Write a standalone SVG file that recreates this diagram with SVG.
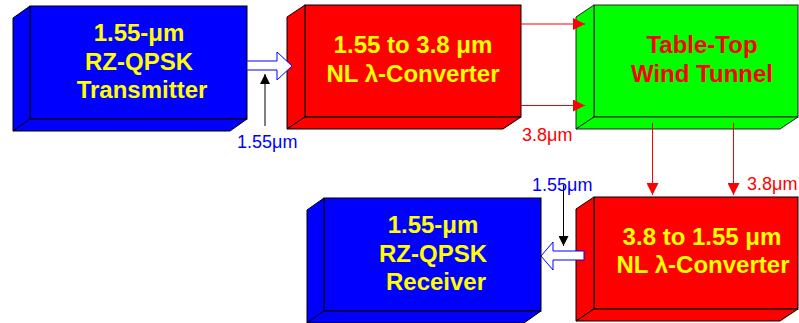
<svg xmlns="http://www.w3.org/2000/svg" width="799" height="323" viewBox="0 0 799 323">
<defs>
<style>
.blue{fill:#0000FF;stroke:#000;stroke-width:1;stroke-linejoin:miter}
.red{fill:#FF0000;stroke:#000;stroke-width:1}
.green{fill:#00FF00;stroke:#222;stroke-width:1}
.t{font-family:"Liberation Sans",Arial,sans-serif;font-weight:bold;font-size:24px;text-anchor:middle}
.ty{fill:#FFFF00}
.tr{fill:#FF0000}
.lbl{font-family:"Liberation Sans",Arial,sans-serif;font-size:18px}
.rl{stroke:#FF0000;stroke-width:1;fill:none}
.bl{stroke:#000;stroke-width:1;fill:none}
.blk{fill:#FFFFFF;stroke:#0000FF;stroke-width:1}
</style>
<marker id="ar" markerUnits="userSpaceOnUse" markerWidth="12" markerHeight="12" viewBox="0 0 10 10" refX="10" refY="5" orient="auto">
<path d="M0,0 L10,5 L0,10 Z" fill="#FF0000"/>
</marker>
<marker id="ak" markerUnits="userSpaceOnUse" markerWidth="10" markerHeight="10" viewBox="0 0 10 10" refX="10" refY="5" orient="auto">
<path d="M0,0 L10,5 L0,10 Z" fill="#000"/>
</marker>
</defs>
<g id="transmitter">
<rect class="blue" x="30" y="6" width="217" height="113"/>
<polygon class="blue" points="13,18 30,6 30,119 13,131"/>
<polygon class="blue" points="13,131 30,119 247,119 230,131"/>
<text class="t ty" x="139" y="41">1.55-μm</text>
<text class="t ty" x="139" y="70">RZ-QPSK</text>
<text class="t ty" x="142" y="98">Transmitter</text>
</g>
<g id="converter1">
<rect class="red" x="305" y="5" width="216" height="112"/>
<polygon class="red" points="287,17 305,5 305,117 287,129"/>
<polygon class="red" points="287,129 305,117 521,117 503,129"/>
<text class="t ty" x="413" y="53">1.55 to 3.8 μm</text>
<text class="t ty" x="413" y="82">NL λ-Converter</text>
</g>
<g id="windtunnel">
<rect class="green" x="594" y="5" width="204" height="112"/>
<polygon class="green" points="576,17 594,5 594,117 576,129"/>
<polygon class="green" points="576,129 594,117 798,117 780,129"/>
<text class="t tr" x="702" y="53">Table-Top</text>
<text class="t tr" x="702" y="82">Wind Tunnel</text>
</g>
<g id="receiver">
<rect class="blue" x="324" y="198" width="217" height="113"/>
<polygon class="blue" points="307,210 324,198 324,311 307,323"/>
<polygon class="blue" points="307,323 324,311 541,311 524,323"/>
<text class="t ty" x="433" y="233">1.55-μm</text>
<text class="t ty" x="433" y="262">RZ-QPSK</text>
<text class="t ty" x="436" y="290">Receiver</text>
</g>
<g id="converter2">
<rect class="red" x="594" y="197" width="204" height="112"/>
<polygon class="red" points="576,209 594,197 594,309 576,321"/>
<polygon class="red" points="576,321 594,309 798,309 780,321"/>
<text class="t ty" x="702" y="245">3.8 to 1.55 μm</text>
<text class="t ty" x="703" y="273">NL λ-Converter</text>
</g>
<g id="connectors">
<path class="blk" d="M247,61 L277,61 L277,52 L292,66 L277,80 L277,70 L247,70 Z"/>
<line class="bl" x1="265" y1="126" x2="265" y2="74" marker-end="url(#ak)"/>
<line class="rl" x1="521" y1="24" x2="585" y2="24" marker-end="url(#ar)"/>
<line class="rl" x1="521" y1="105.5" x2="585" y2="105.5" marker-end="url(#ar)"/>
<line class="rl" x1="652.5" y1="123" x2="652.5" y2="195" marker-end="url(#ar)"/>
<line class="rl" x1="733.5" y1="123" x2="733.5" y2="195" marker-end="url(#ar)"/>
<path class="blk" d="M584,251 L553,251 L553,242 L541,256 L553,270 L553,260 L584,260 Z"/>
<line class="bl" x1="563.5" y1="185" x2="563.5" y2="246" marker-end="url(#ak)"/>
</g>
<g id="labels">
<text class="lbl" x="237" y="148" fill="#0000FF">1.55μm</text>
<text class="lbl" x="522" y="141" fill="#FF0000">3.8μm</text>
<text class="lbl" x="747" y="190" fill="#FF0000">3.8μm</text>
<text class="lbl" x="532" y="191" fill="#0000FF">1.55μm</text>
</g>
</svg>
